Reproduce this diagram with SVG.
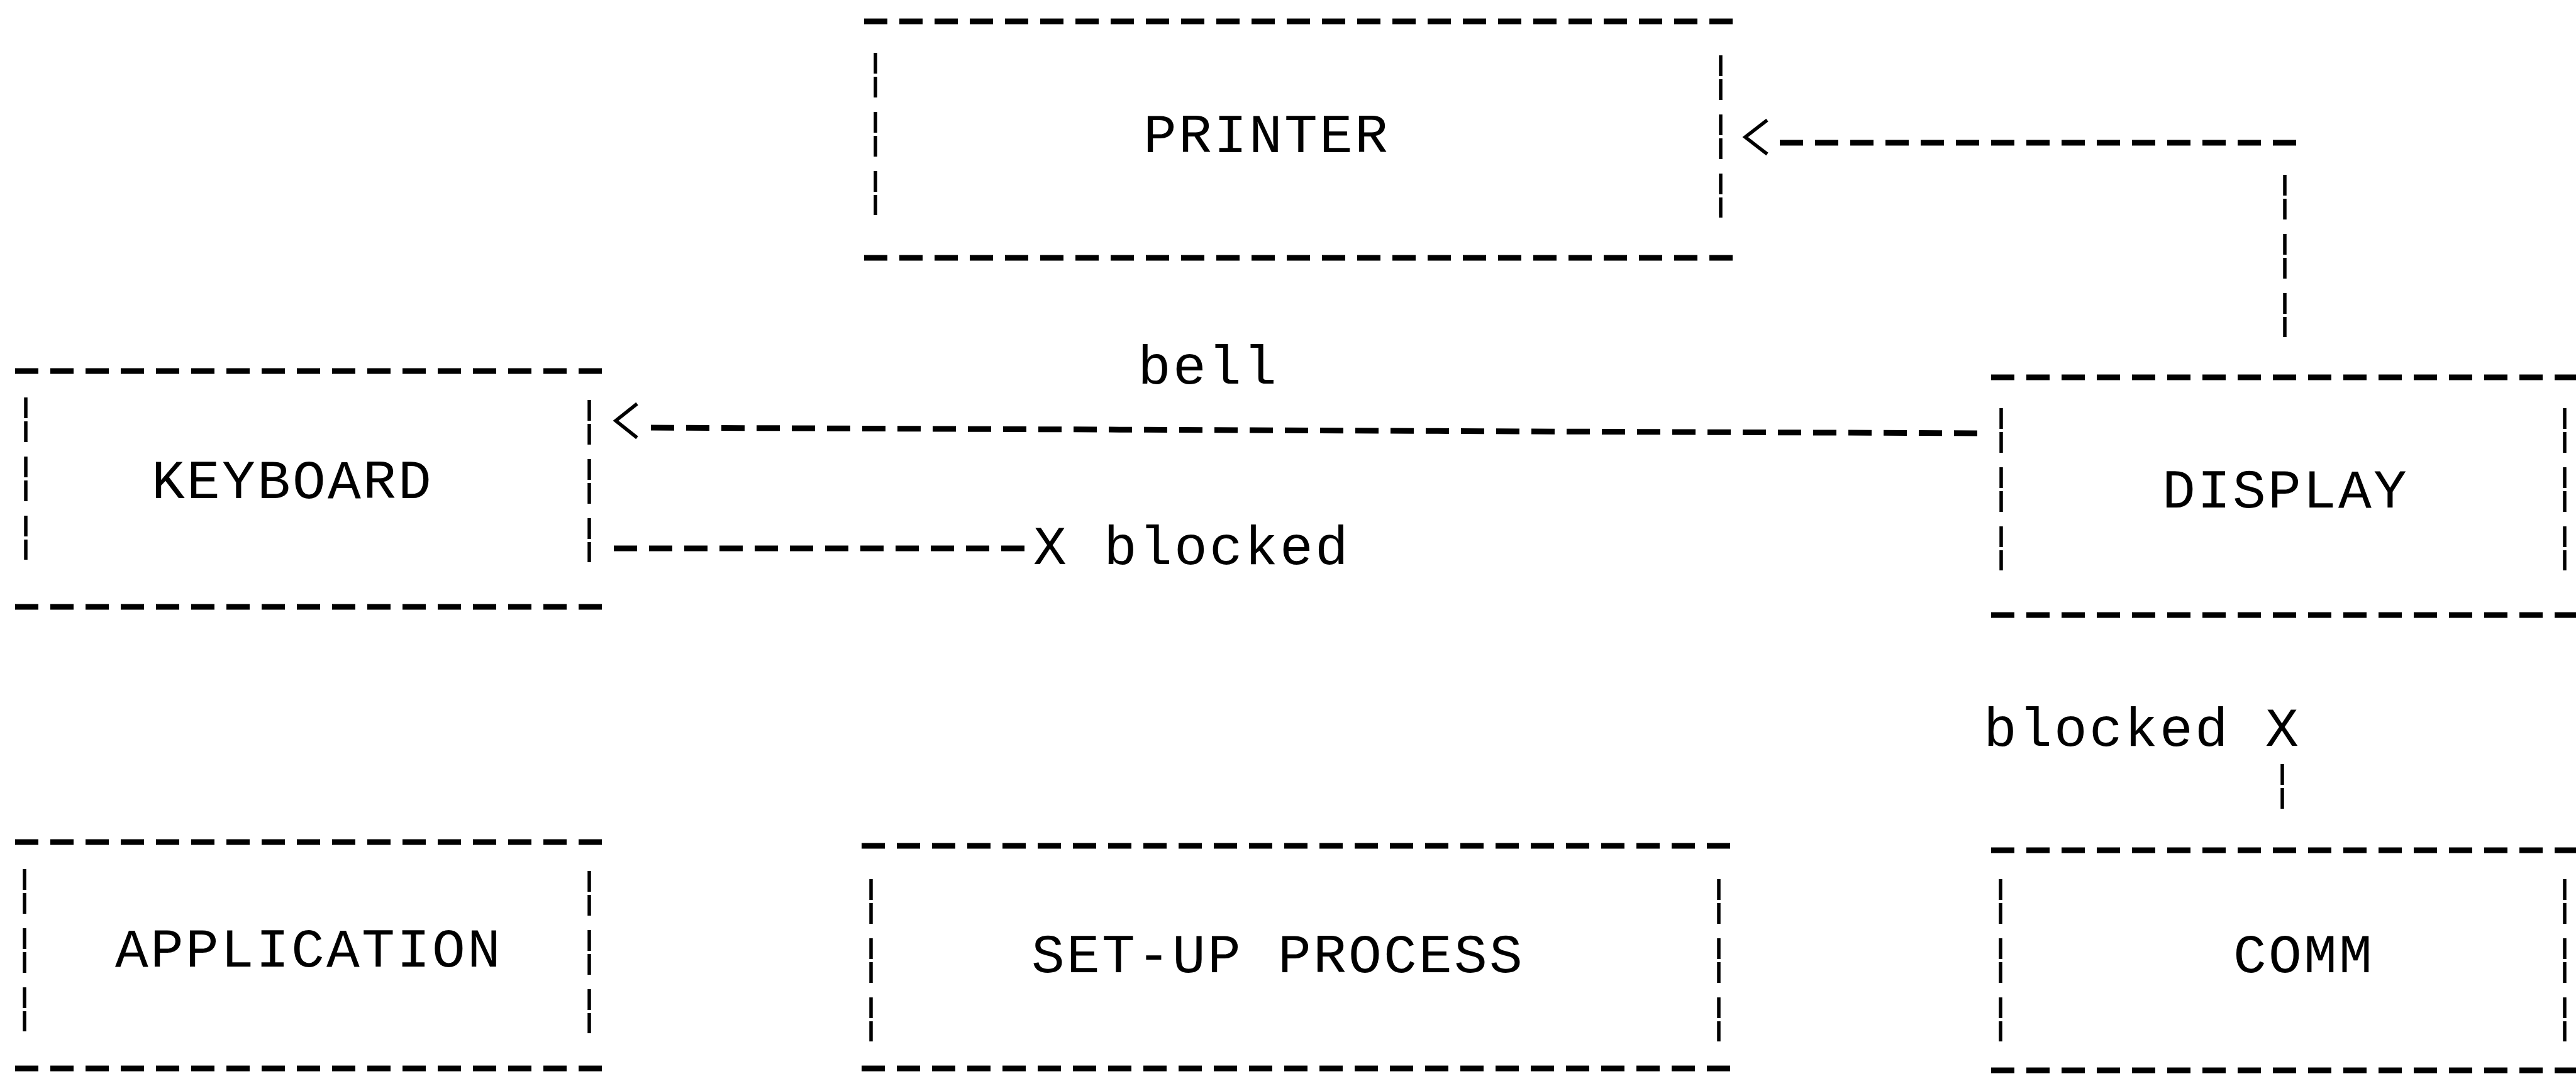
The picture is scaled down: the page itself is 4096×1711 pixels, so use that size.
<svg xmlns="http://www.w3.org/2000/svg" width="4096" height="1711" viewBox="0 0 4096 1711">
<style>
.h{fill:none;stroke:#000;stroke-width:9;stroke-dasharray:37 19}
.v{fill:none;stroke:#000;stroke-width:5.5;stroke-dasharray:33 5 33 23}
.head{fill:none;stroke:#000;stroke-width:5.5;stroke-linejoin:miter;stroke-linecap:butt}
text{font-family:"Liberation Mono","DejaVu Sans Mono",monospace;font-size:88px;letter-spacing:3.2px;fill:#000}
</style>
<rect width="4096" height="1711" fill="#fff"/>
<g id="printer">
<path class="h" d="M1374 34H2758"/>
<path class="h" d="M1374 410H2758"/>
<path class="v" d="M1392 84V342"/>
<path class="v" d="M2736 88V346"/>
<text x="1818" y="242">PRINTER</text>
</g>
<g id="keyboard">
<path class="h" d="M24 590H960"/>
<path class="h" d="M24 965H960"/>
<path class="v" d="M41 632V890"/>
<path class="v" d="M937 636V894"/>
<text x="241" y="792">KEYBOARD</text>
</g>
<g id="display">
<path class="h" d="M3166 600H4096"/>
<path class="h" d="M3166 978H4096"/>
<path class="v" d="M3182 649V907"/>
<path class="v" d="M4078 649V907"/>
<text x="3438" y="807">DISPLAY</text>
</g>
<g id="application">
<path class="h" d="M24 1339H960"/>
<path class="h" d="M24 1699H960"/>
<path class="v" d="M39 1382V1640"/>
<path class="v" d="M937 1385V1643"/>
<text x="183" y="1537">APPLICATION</text>
</g>
<g id="setup-process">
<path class="h" d="M1370 1345H2752"/>
<path class="h" d="M1370 1699H2752"/>
<path class="v" d="M1385 1398V1656"/>
<path class="v" d="M2733 1398V1656"/>
<text x="1640" y="1546">SET-UP PROCESS</text>
</g>
<g id="comm">
<path class="h" d="M3166 1352H4096"/>
<path class="h" d="M3166 1702H4096"/>
<path class="v" d="M3181 1398V1656"/>
<path class="v" d="M4078 1398V1656"/>
<text x="3551" y="1546">COMM</text>
</g>
<g id="connectors">
<g id="display-to-printer">
<path class="v" d="M3633 278V536"/>
<path class="h" d="M2830 227H3653"/>
<polyline class="head" points="2810,191 2775,218 2810,245"/>
</g>
<g id="display-to-keyboard-bell">
<path class="h" d="M1035 680L3146 689"/>
<polyline class="head" points="1013,642 979,669 1013,696"/>
<text x="1809" y="610">bell</text>
</g>
<g id="keyboard-to-display-blocked">
<path class="h" d="M976 872H1632"/>
<text x="1643" y="897">X blocked</text>
</g>
<g id="comm-to-display-blocked">
<path class="v" d="M3629 1215V1290"/>
<text x="3154" y="1186">blocked X</text>
</g>
</g>
</svg>
